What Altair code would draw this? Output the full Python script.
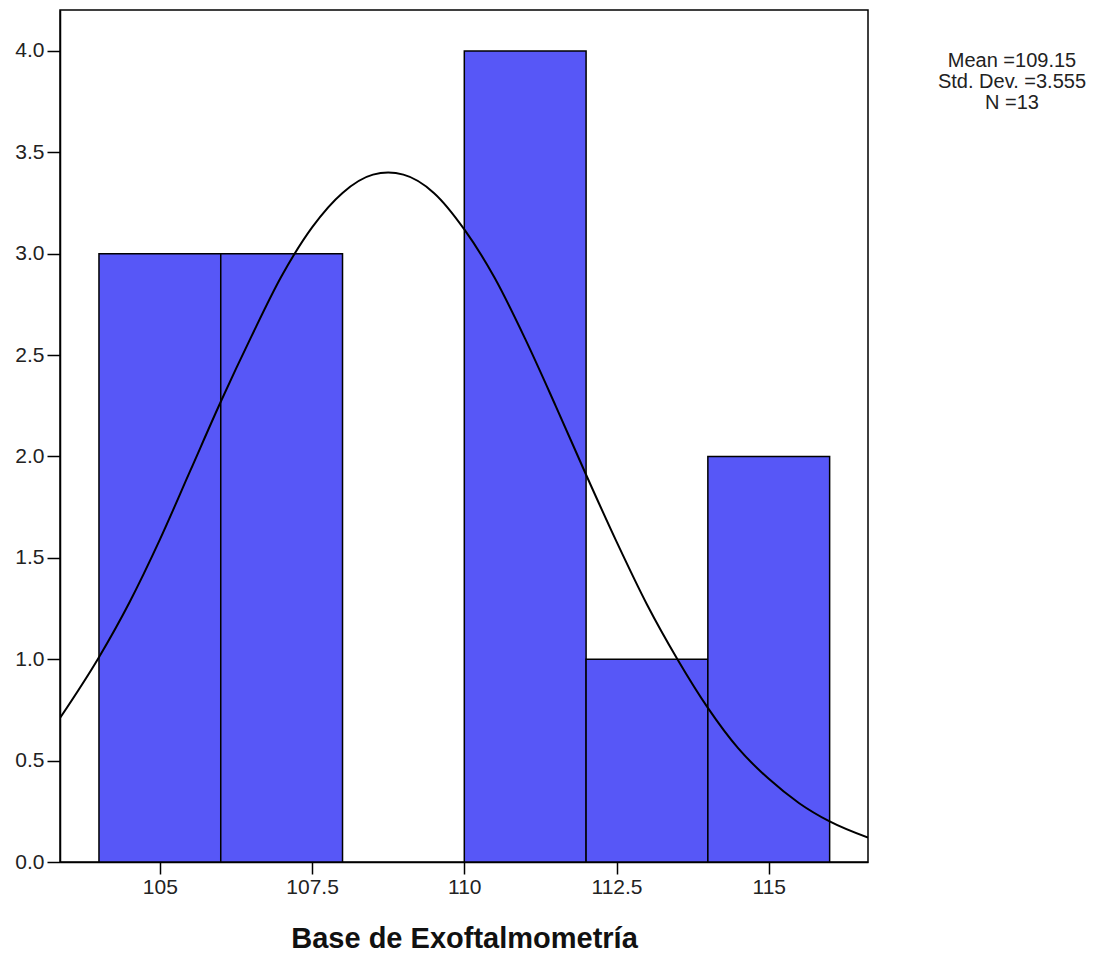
import altair as alt
import pandas as pd

# Histogram bins (lower edge, upper edge) and counts
bin_start = [104, 106, 108, 110, 112, 114]
bin_end = [106, 108, 110, 112, 114, 116]
counts = [3, 3, 0, 4, 1, 2]

# Normal curve points
curve_x = [103.36, 104, 104.5, 105, 105.5, 106, 106.5, 107, 107.5, 108, 108.5, 108.75,
           109, 109.5, 110, 110.5, 111, 111.5, 112, 112.5, 113, 113.5, 114, 114.5,
           115, 115.5, 116, 116.63]
curve_y = [0.71, 1.01, 1.28, 1.59, 1.93, 2.27, 2.59, 2.89, 3.13, 3.30, 3.39, 3.40,
           3.39, 3.30, 3.12, 2.88, 2.58, 2.25, 1.91, 1.58, 1.27, 1.00, 0.76, 0.56,
           0.41, 0.29, 0.20, 0.12]

x_ticks = [105, 107.5, 110, 112.5, 115]
y_ticks = [0.0, 0.5, 1.0, 1.5, 2.0, 2.5, 3.0, 3.5, 4.0]
stats_lines = ["Mean =109.15", "Std. Dev. =3.555", "N =13"]

X_DOMAIN = [103.36, 116.63]
Y_DOMAIN = [0, 4.202]
FONT = "Liberation Sans"

bars_df = pd.DataFrame({"x0": bin_start, "x1": bin_end, "count": counts})
bars_df = bars_df[bars_df["count"] > 0]
curve_df = pd.DataFrame({"x": curve_x, "y": curve_y})
stats_df = pd.DataFrame({"line": stats_lines, "i": list(range(len(stats_lines)))})

x_scale = alt.Scale(domain=X_DOMAIN, nice=False, zero=False)
y_scale = alt.Scale(domain=Y_DOMAIN, nice=False)

x_axis = alt.Axis(values=x_ticks, format="~g", title="Base de Exoftalmometría",
                  titleFontSize=29, titleFontWeight="bold", titleFont=FONT,
                  titleColor="#111111", titleBaseline="alphabetic", titleY=85,
                  labelFontSize=21, labelFont=FONT, labelColor="#222222",
                  tickSize=12, tickColor="black", tickWidth=1.5,
                  domainColor="black", domainWidth=1.5, grid=False, labelPadding=2)
y_axis = alt.Axis(values=y_ticks, format=".1f", title=None,
                  labelFontSize=21, labelFont=FONT, labelColor="#222222",
                  tickSize=13, tickColor="black", tickWidth=1.5,
                  domainColor="black", domainWidth=1.5, grid=False, labelPadding=3)

bars = alt.Chart(bars_df).mark_rect(
    fill="#5757F7", stroke="black", strokeWidth=1.5
).encode(
    x=alt.X("x0:Q", scale=x_scale, axis=x_axis),
    x2="x1:Q",
    y=alt.Y("count:Q", scale=y_scale, axis=y_axis),
    y2=alt.datum(0),
)

curve = alt.Chart(curve_df).mark_line(
    color="black", strokeWidth=2, interpolate="monotone", clip=True
).encode(
    x=alt.X("x:Q", scale=x_scale),
    y=alt.Y("y:Q", scale=y_scale, axis=None),
)

stats = alt.Chart(stats_df).mark_text(
    font=FONT, fontSize=20, color="#222222", align="center", baseline="middle"
).encode(
    x=alt.value(952),
    y=alt.Y("i:Q", scale=alt.Scale(domain=[0, 20], range=[51, 471]), axis=None),
    text="line:N",
)

chart = alt.layer(bars, curve, stats).resolve_scale(y="independent").properties(
    width=808, height=852,
    padding={"left": 60, "top": 10, "right": 233, "bottom": 92},
    autosize="none",
    background="white",
).configure_view(stroke="black", strokeWidth=1.5)

chart.save("out.html", embed_options={"renderer": "svg", "actions": False})
